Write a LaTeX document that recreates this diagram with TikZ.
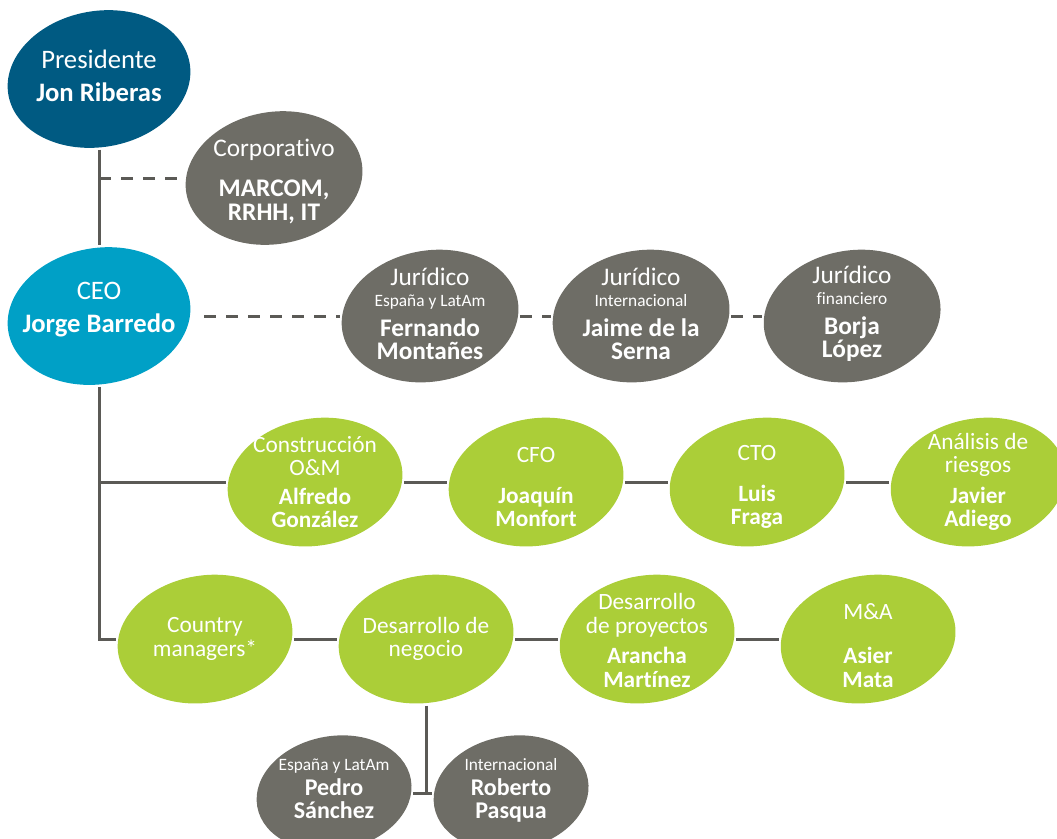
\documentclass[tikz,border=0pt]{standalone}
\usepackage{fontspec}
\setmainfont{Carlito}[Ligatures=NoCommon]
\usetikzlibrary{shapes.geometric,backgrounds}

\definecolor{presblue}{HTML}{005A82}
\definecolor{ceoblue}{HTML}{00A0C6}
\definecolor{blobgray}{HTML}{6E6D66}
\definecolor{blobgreen}{HTML}{ABCE38}
\definecolor{linegray}{HTML}{5B5A56}

\begin{document}
\begin{tikzpicture}[x=0.75pt, y=-0.75pt, node distance={165.75pt},
  box/.style = {ellipse, inner sep=0pt, outer sep=1.5pt},
  bluebox/.style = {box, minimum width=137pt, minimum height=103pt},
  graybox/.style = {box, minimum width=132pt, minimum height=100pt},
  greenbox/.style = {box, minimum width=131pt, minimum height=97pt},
  subbox/.style = {box, minimum width=116pt, minimum height=87pt},
  txt/.style = {text=white, align=center, inner sep=0pt},
  bigtxt/.style = {txt, font=\fontsize{20}{18}\selectfont},
  graytxt/.style = {txt, font=\fontsize{19}{17.5}\selectfont},
  greentxt/.style = {txt, font=\fontsize{17.5}{17.5}\selectfont},
  subtxt/.style = {txt, font=\fontsize{18}{17.5}\selectfont},
  link/.style = {draw=linegray, line width=2.25pt},
  dashlink/.style = {link, dash pattern=on 9pt off 7.5pt}]
\useasboundingbox (0,0) rectangle (1057,839);

% direction
\node[bluebox, label={[bigtxt, yshift=2pt]center:{Presidente\\[6.75pt]\textbf{Jon Riberas}}}] (pres) at (99,79) {};
\node[graybox, label={[graytxt, yshift=-2.5pt]center:{Corporativo\\[12.5pt]\textbf{MARCOM,}\\\textbf{RRHH, IT}}}] (corp) at (274,178) {};
\node[bluebox, label={[bigtxt, yshift=5pt]center:{CEO\\[6.75pt]\textbf{Jorge Barredo}}}] (ceo) at (99,316) {};

% juridico
\node[graybox, label={[graytxt, yshift=1.5pt]center:{Jurídico\\[-1.75pt]{\fontsize{13}{15}\selectfont España y LatAm}\\[5pt]\textbf{Fernando}\\\textbf{Montañes}}}] (fer) at (430,316) {};
\node[graybox, node distance=158.25pt, label={[graytxt, yshift=1.5pt]center:{Jurídico\\[-1.75pt]{\fontsize{13}{15}\selectfont Internacional}\\[5pt]\textbf{Jaime de la}\\\textbf{Serna}}}] (jai) [right of=fer] {};
\node[graybox, node distance=158.25pt, label={[graytxt, yshift=1.5pt]center:{Jurídico\\[-1.75pt]{\fontsize{13}{15}\selectfont financiero}\\[5pt]\textbf{Borja}\\\textbf{López}}}] (bor) [right of=jai] {};

% first green row
\node[greenbox, label={[greentxt]center:{Construcción\\O\&M\\[4pt]\textbf{Alfredo}\\\textbf{González}}}] (con) at (315,482) {};
\node[greenbox, label={[greentxt, yshift=-4pt]center:{CFO\\[13pt]\textbf{Joaquín}\\\textbf{Monfort}}}] (cfo) [right of=con] {};
\node[greenbox, label={[greentxt, yshift=-4pt]center:{CTO\\[13pt]\textbf{Luis}\\\textbf{Fraga}}}] (cto) [right of=cfo] {};
\node[greenbox, label={[greentxt]center:{Análisis de\\riesgos\\[5.5pt]\textbf{Javier}\\\textbf{Adiego}}}] (rsk) [right of=cto] {};

% second green row
\node[greenbox, label={[greentxt]center:{Country\\managers*}}] (cm) at (205,639) {};
\node[greenbox, label={[greentxt]center:{Desarrollo de\\negocio}}] (neg) [right of=cm] {};
\node[greenbox, label={[greentxt, yshift=-1pt]center:{Desarrollo\\de proyectos\\[5.5pt]\textbf{Arancha}\\\textbf{Martínez}}}] (pry) [right of=neg] {};
\node[greenbox, label={[greentxt, yshift=-5pt]center:{M\&A\\[15.5pt]\textbf{Asier}\\\textbf{Mata}}}] (ma) [right of=pry] {};

% negocio
\node[subbox, label={[subtxt, yshift=3pt]center:{{\fontsize{13}{15}\selectfont España y LatAm}\\[1pt]\textbf{Pedro}\\\textbf{Sánchez}}}] (ped) at (334,793) {};
\node[subbox, label={[subtxt, yshift=2pt]center:{{\fontsize{13}{15}\selectfont Internacional}\\[1pt]\textbf{Roberto}\\\textbf{Pasqua}}}] (rob) at (511,793) {};

% tilted fills
\begin{scope}[on background layer]
\foreach \n/\c/\a/\b in {pres/presblue/92/68, ceo/ceoblue/92/68, corp/blobgray/89/66,
    fer/blobgray/89/65.5, jai/blobgray/89/65.5, bor/blobgray/89/65.5,
    con/blobgreen/88/63.5, cfo/blobgreen/88/63.5, cto/blobgreen/88/63.5, rsk/blobgreen/88/63.5,
    cm/blobgreen/88/63.5, neg/blobgreen/88/63.5, pry/blobgreen/88/63.5, ma/blobgreen/88/63.5,
    ped/blobgray/78/57, rob/blobgray/78/57}
  \fill[\c, rotate around={10:(\n)}] (\n) ellipse ({\a} and {\b});
\end{scope}

\draw[link] (pres) -- (ceo);
\draw[dashlink] (pres |- corp) -- (corp);
\draw[dashlink, shorten <=9pt] (ceo) -- (fer);
\draw[dashlink] (fer) -- (jai);
\draw[dashlink] (jai) -- (bor);
\draw[link] (ceo) -- (ceo |- cm) -- (cm);
\draw[link] (ceo |- con) -- (con);
\draw[link] (con) -- (cfo);
\draw[link] (cfo) -- (cto);
\draw[link] (cto) -- (rsk);
\draw[link] (cm) -- (neg);
\draw[link] (neg) -- (pry);
\draw[link] (pry) -- (ma);
\draw[link] (neg) -- (neg |- ped);
\draw[link] (ped) -- (rob);
\end{tikzpicture}
\end{document}
